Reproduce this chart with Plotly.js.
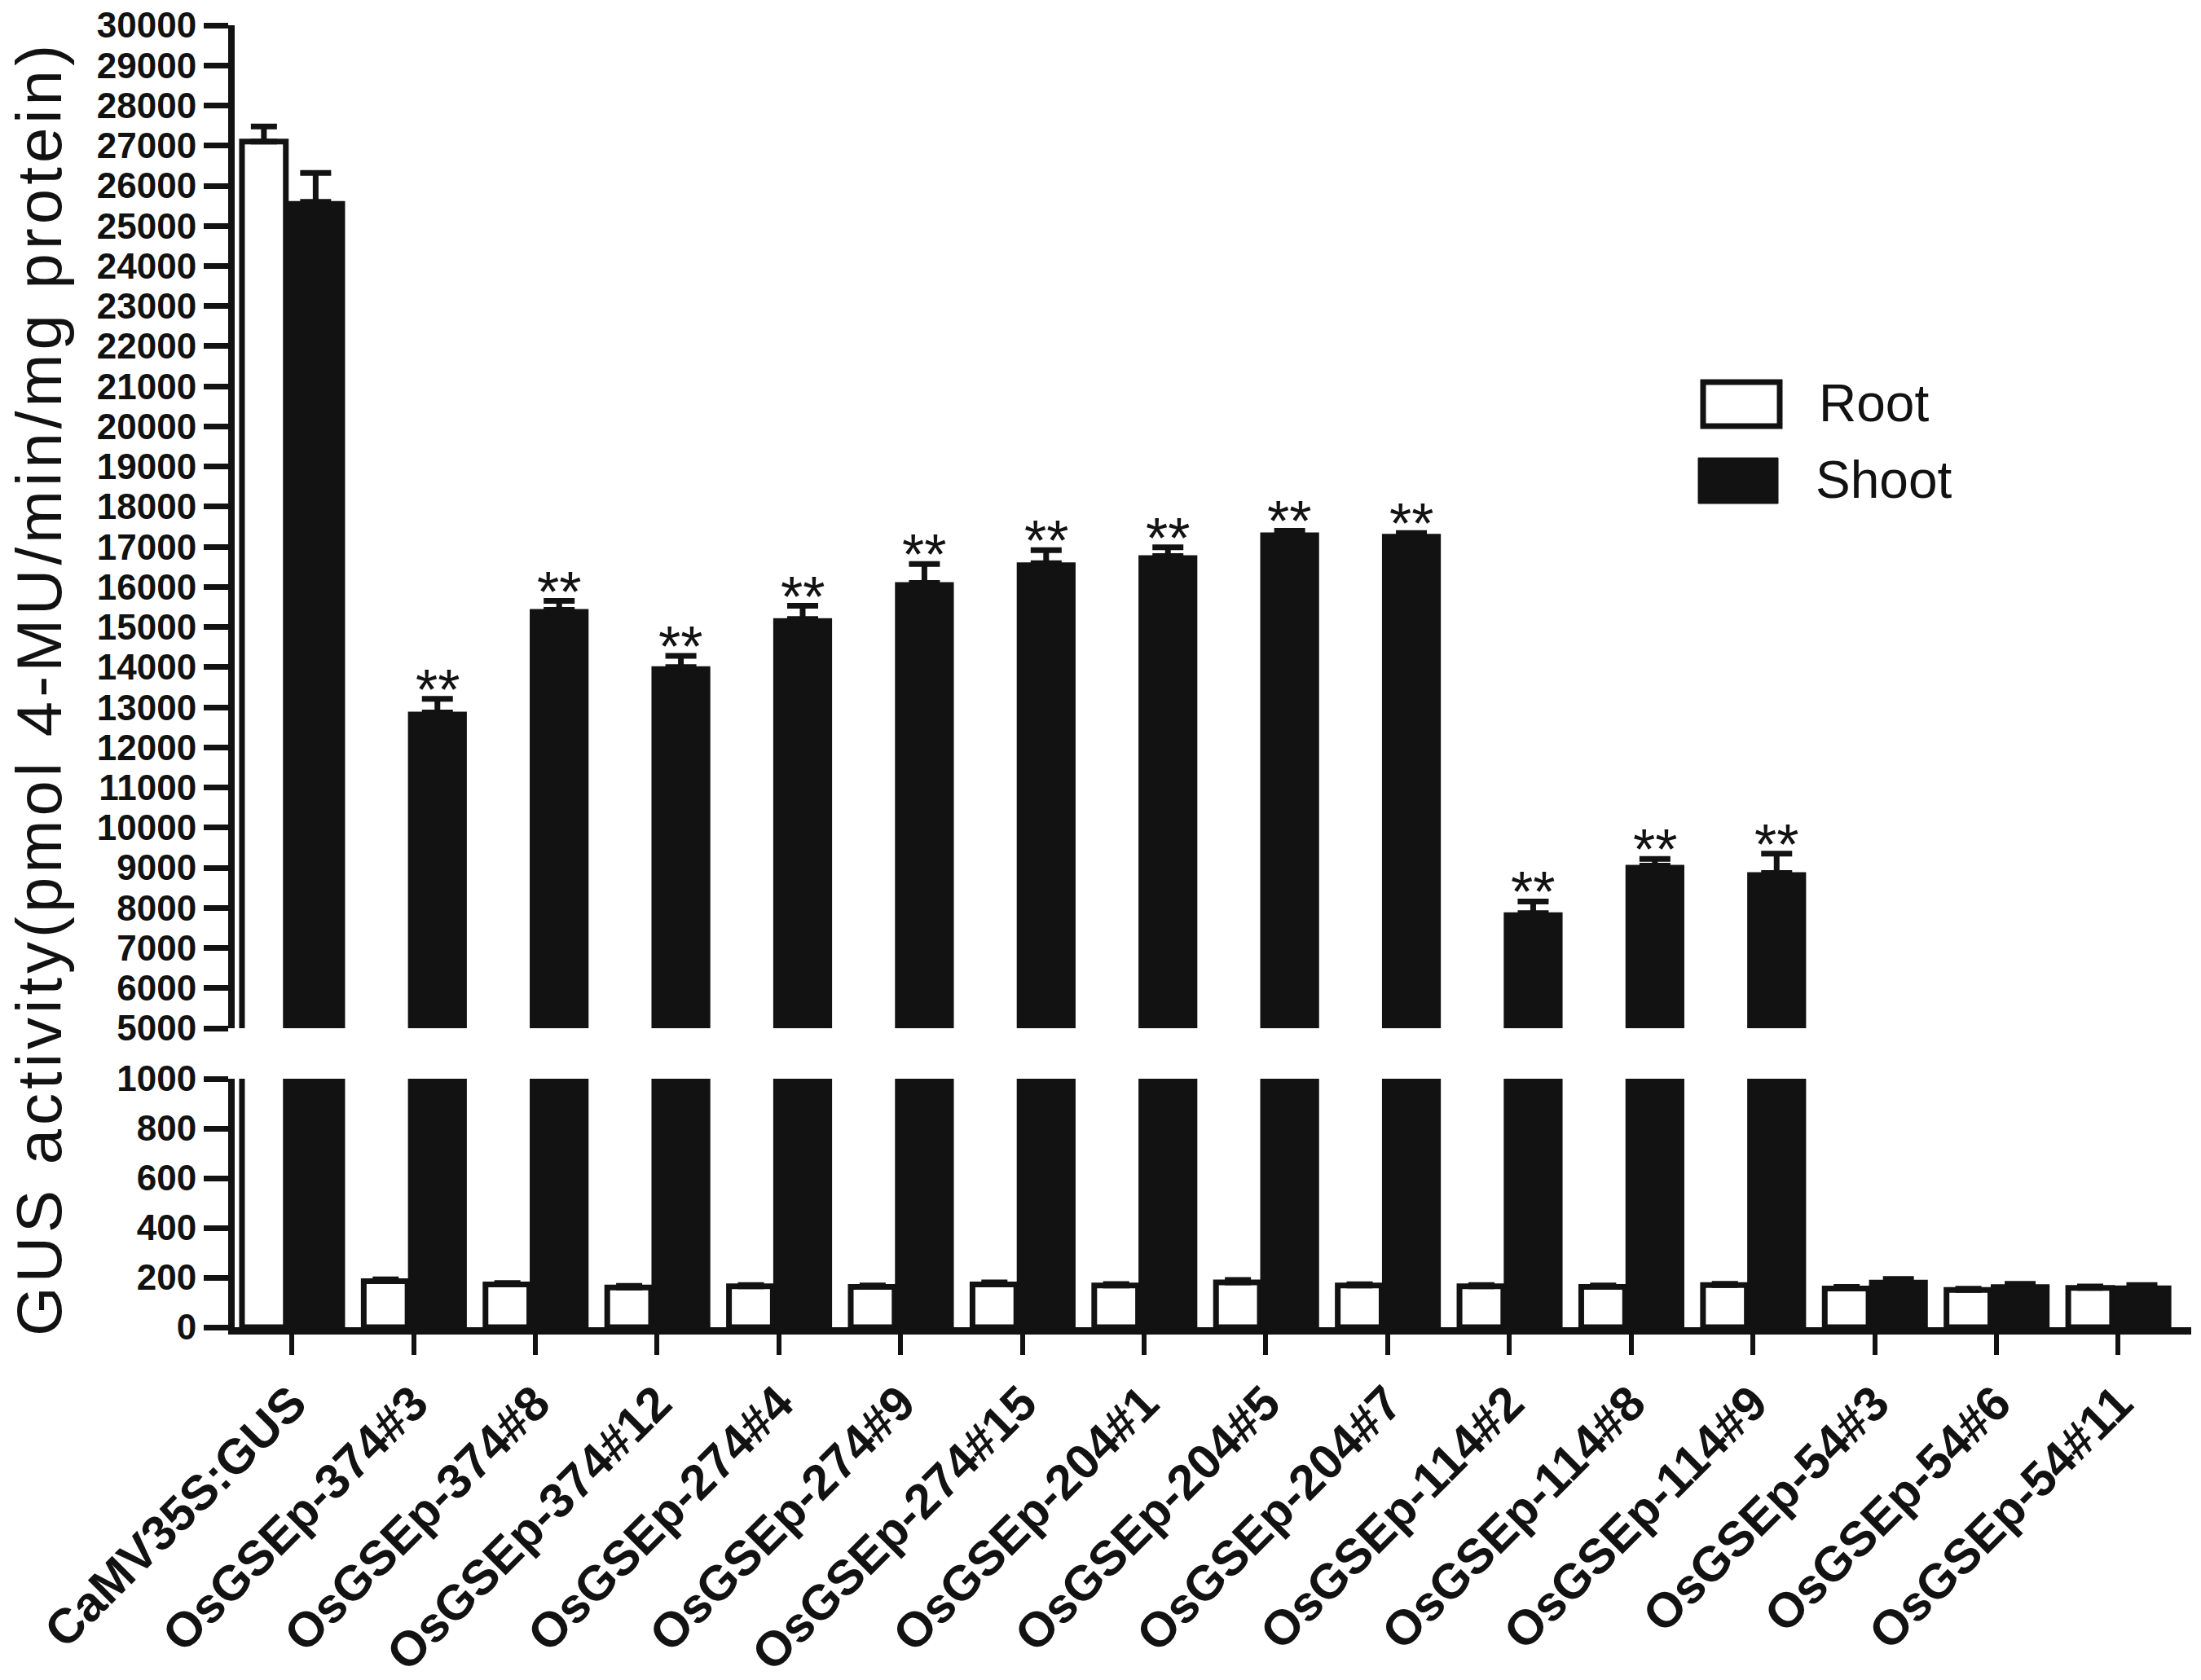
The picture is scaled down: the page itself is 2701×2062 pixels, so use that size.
<!DOCTYPE html>
<html>
<head>
<meta charset="utf-8">
<script src="https://cdn.plot.ly/plotly-3.0.1.min.js"></script>
<style>
  html, body { margin: 0; padding: 0; background: #fff; }
  #chart { width: 2701px; height: 2062px; }
  /* the original axis title is set with wide letter spacing */
  #chart text[data-unformatted^="GUS"] { letter-spacing: 5px; }
</style>
</head>
<body>
<div id="chart"></div>
<script>
// lines tested
var lines = ["CaMV35S:GUS", "OsGSEp-374#3", "OsGSEp-374#8", "OsGSEp-374#12",
  "OsGSEp-274#4", "OsGSEp-274#9", "OsGSEp-274#15", "OsGSEp-204#1",
  "OsGSEp-204#5", "OsGSEp-204#7", "OsGSEp-114#2", "OsGSEp-114#8",
  "OsGSEp-114#9", "OsGSEp-54#3", "OsGSEp-54#6", "OsGSEp-54#11"];

// GUS activity, pmol 4-MU/min/mg protein
var root = [27100, 185, 172, 160, 165, 162, 172, 168, 180, 168, 165, 162, 170, 156, 150, 158];
var rootErr = [380, 8, 6, 6, 5, 6, 8, 6, 10, 5, 5, 6, 5, 6, 5, 6];
var shoot = [25600, 12870, 15430, 14000, 15200, 16100, 16590, 16770, 17340, 17300, 7870, 9050, 8870, 188, 170, 165];
var shootErr = [720, 340, 220, 280, 330, 470, 325, 220, 60, 45, 290, 170, 480, 6, 5, 5];
var signif = ["", "**", "**", "**", "**", "**", "**", "**", "**", "**", "**", "**", "**", "", "", ""];

var W = 2701, H = 2062;
var M = { l: 288, r: 12, t: 31, b: 433 };
var plotW = W - M.l - M.r, plotH = H - M.t - M.b;
function px(x) { return (x - M.l) / plotW; }
function py(y) { return (H - M.b - y) / plotH; }

var black = "#121212";
var LOWER_MAX = 1000, UPPER_MIN = 5000, UPPER_MAX = 30000;

function onlyAbove(vals) { return vals.map(function (v) { return v >= UPPER_MIN ? v : null; }); }
function errBelow(vals, errs) { return errs.map(function (e, i) { return vals[i] < LOWER_MAX ? e : null; }); }
function errAbove(vals, errs) { return errs.map(function (e, i) { return vals[i] >= UPPER_MIN ? e : null; }); }

function rootTrace(y, err, yaxis) {
  return {
    type: "bar", x: lines, y: y, yaxis: yaxis, name: "Root", showlegend: false,
    offset: -0.41, width: 0.36,
    marker: { color: "#ffffff", line: { color: black, width: 7 } },
    error_y: { type: "data", symmetric: false, array: err, arrayminus: err.map(function () { return 0; }),
      color: black, thickness: 7, width: 16 }
  };
}
function shootTrace(y, err, yaxis) {
  return {
    type: "bar", x: lines, y: y, yaxis: yaxis, name: "Shoot", showlegend: false,
    offset: -0.04, width: 0.47,
    marker: { color: black, line: { color: black, width: 2 } },
    error_y: { type: "data", symmetric: false, array: err, arrayminus: err.map(function () { return 0; }),
      color: black, thickness: 7, width: 19 }
  };
}

var data = [
  rootTrace(root, errBelow(root, rootErr), "y"),
  shootTrace(shoot, errBelow(shoot, shootErr), "y"),
  rootTrace(onlyAbove(root), errAbove(root, rootErr), "y2"),
  shootTrace(onlyAbove(shoot), errAbove(shoot, shootErr), "y2")
];

var tickFont = { family: "Liberation Sans, Arial, sans-serif", size: 44, weight: "bold", color: black };
var yCommon = {
  showline: true, linewidth: 8, linecolor: black, mirror: false,
  ticks: "outside", ticklen: 30, tickwidth: 7, tickcolor: black,
  showgrid: false, zeroline: false, tickfont: tickFont, anchor: "x",
  tickformat: "d", fixedrange: true
};

var annotations = [];
lines.forEach(function (c, i) {
  if (signif[i]) {
    annotations.push({
      xref: "x", yref: "y2", x: c, y: shoot[i] + shootErr[i], text: signif[i],
      showarrow: false, xanchor: "center", yanchor: "bottom", xshift: 29, yshift: -30,
      font: { family: "Liberation Sans, Arial, sans-serif", size: 70, color: black }
    });
  }
});
annotations.push({
  xref: "paper", yref: "paper", x: px(48), y: py(845), textangle: -90,
  text: "GUS activity(pmol 4-MU/min/mg protein)", showarrow: false,
  xanchor: "center", yanchor: "middle",
  font: { family: "Liberation Sans, Arial, sans-serif", size: 78, color: black }
});
annotations.push({
  xref: "paper", yref: "paper", x: px(2230), y: py(495), text: "Root", showarrow: false,
  xanchor: "left", yanchor: "middle",
  font: { family: "Liberation Sans, Arial, sans-serif", size: 64, color: black }
});
annotations.push({
  xref: "paper", yref: "paper", x: px(2226), y: py(589), text: "Shoot", showarrow: false,
  xanchor: "left", yanchor: "middle",
  font: { family: "Liberation Sans, Arial, sans-serif", size: 64, color: black }
});

var shapes = [
  { type: "rect", xref: "paper", yref: "paper", x0: px(2090), x1: px(2184), y0: py(523), y1: py(469),
    fillcolor: "#ffffff", line: { color: black, width: 7 } },
  { type: "rect", xref: "paper", yref: "paper", x0: px(2084), x1: px(2182), y0: py(618), y1: py(562),
    fillcolor: black, line: { color: black, width: 1 } }
];

var layout = {
  width: W, height: H,
  margin: M,
  paper_bgcolor: "#ffffff", plot_bgcolor: "#ffffff",
  barmode: "overlay",
  showlegend: false,
  xaxis: {
    type: "category", range: [-0.47, 15.6], anchor: "y",
    showline: true, linewidth: 9, linecolor: black,
    ticks: "outside", ticklen: 25, tickwidth: 6, tickcolor: black,
    tickangle: -45, showgrid: false, zeroline: false, fixedrange: true,
    tickfont: { family: "Liberation Sans, Arial, sans-serif", size: 60, weight: "bold", color: black }
  },
  yaxis: Object.assign({}, yCommon, { domain: [0, py(1324)], range: [0, LOWER_MAX], tick0: 0, dtick: 200 }),
  yaxis2: Object.assign({}, yCommon, { domain: [py(1262), 1], range: [UPPER_MIN, UPPER_MAX + 1], tick0: 0, dtick: 1000 }),
  annotations: annotations,
  shapes: shapes
};

Plotly.newPlot("chart", data, layout, { displayModeBar: false, staticPlot: true });
</script>
</body>
</html>
